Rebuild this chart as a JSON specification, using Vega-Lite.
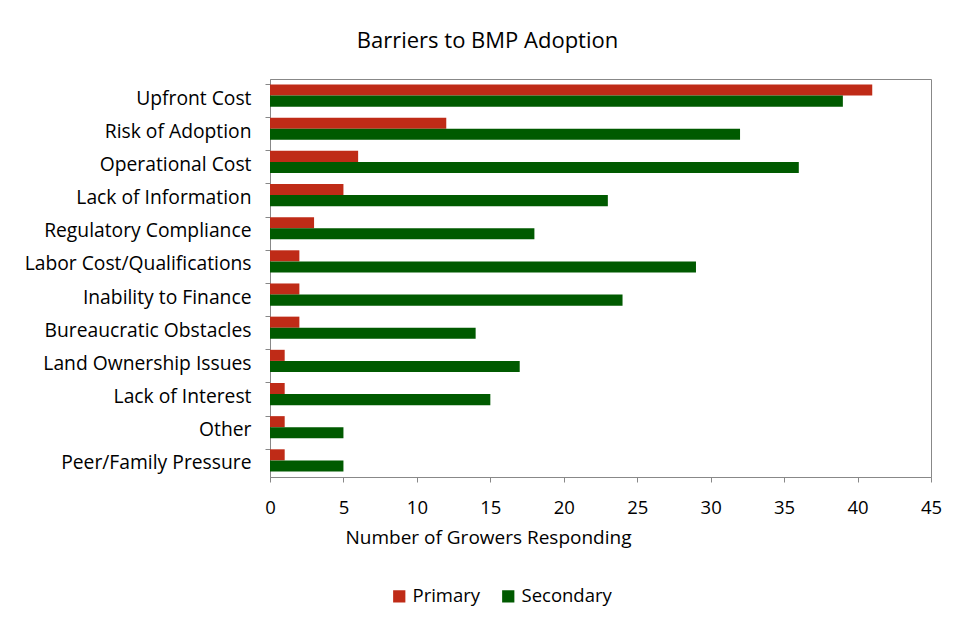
{
  "$schema": "https://vega.github.io/schema/vega-lite/v6.json",
  "autosize": "none",
  "width": 661,
  "height": 398,
  "padding": {"left": 270, "top": 79, "right": 26, "bottom": 155},
  "background": "white",
  "title": {
    "text": "Barriers to BMP Adoption",
    "anchor": "middle",
    "dx": -113,
    "offset": 26,
    "fontSize": 22,
    "fontWeight": "normal",
    "font": "Open Sans",
    "color": "#000"
  },
  "data": {
    "values": [
      {"barrier": "Upfront Cost", "series": "Primary", "growers": 41},
      {"barrier": "Upfront Cost", "series": "Secondary", "growers": 39},
      {"barrier": "Risk of Adoption", "series": "Primary", "growers": 12},
      {"barrier": "Risk of Adoption", "series": "Secondary", "growers": 32},
      {"barrier": "Operational Cost", "series": "Primary", "growers": 6},
      {"barrier": "Operational Cost", "series": "Secondary", "growers": 36},
      {"barrier": "Lack of Information", "series": "Primary", "growers": 5},
      {"barrier": "Lack of Information", "series": "Secondary", "growers": 23},
      {"barrier": "Regulatory Compliance", "series": "Primary", "growers": 3},
      {"barrier": "Regulatory Compliance", "series": "Secondary", "growers": 18},
      {"barrier": "Labor Cost/Qualifications", "series": "Primary", "growers": 2},
      {"barrier": "Labor Cost/Qualifications", "series": "Secondary", "growers": 29},
      {"barrier": "Inability to Finance", "series": "Primary", "growers": 2},
      {"barrier": "Inability to Finance", "series": "Secondary", "growers": 24},
      {"barrier": "Bureaucratic Obstacles", "series": "Primary", "growers": 2},
      {"barrier": "Bureaucratic Obstacles", "series": "Secondary", "growers": 14},
      {"barrier": "Land Ownership Issues", "series": "Primary", "growers": 1},
      {"barrier": "Land Ownership Issues", "series": "Secondary", "growers": 17},
      {"barrier": "Lack of Interest", "series": "Primary", "growers": 1},
      {"barrier": "Lack of Interest", "series": "Secondary", "growers": 15},
      {"barrier": "Other", "series": "Primary", "growers": 1},
      {"barrier": "Other", "series": "Secondary", "growers": 5},
      {"barrier": "Peer/Family Pressure", "series": "Primary", "growers": 1},
      {"barrier": "Peer/Family Pressure", "series": "Secondary", "growers": 5}
    ]
  },
  "mark": {"type": "bar"},
  "encoding": {
    "y": {
      "field": "barrier",
      "type": "nominal",
      "sort": null,
      "scale": {"paddingInner": 0.33, "paddingOuter": 0.165},
      "axis": {
        "title": null,
        "labelFont": "Open Sans",
        "labelFontSize": 19.3,
        "labelColor": "#000",
        "labelPadding": 14,
        "labelLimit": 300,
        "labelOffset": 3,
        "tickSize": 5,
        "tickColor": "#888",
        "domainColor": "#888",
        "bandPosition": 0
      }
    },
    "yOffset": {
      "field": "series",
      "type": "nominal",
      "sort": ["Primary", "Secondary"],
      "scale": {"paddingInner": 0, "paddingOuter": 0}
    },
    "x": {
      "field": "growers",
      "type": "quantitative",
      "scale": {"domain": [0, 45], "nice": false},
      "axis": {
        "title": "Number of Growers Responding",
        "values": [0, 5, 10, 15, 20, 25, 30, 35, 40, 45],
        "grid": false,
        "labelFlush": false,
        "labelFont": "Open Sans",
        "labelFontSize": 18.5,
        "labelColor": "#000",
        "labelPadding": 16,
        "tickSize": 5,
        "tickColor": "#888",
        "domainColor": "#888",
        "titleFont": "Open Sans",
        "titleFontSize": 19,
        "titleFontWeight": "normal",
        "titleColor": "#000",
        "titlePadding": 12,
        "titleX": 218,
        "titleAlign": "center"
      }
    },
    "color": {
      "field": "series",
      "type": "nominal",
      "scale": {"domain": ["Primary", "Secondary"], "range": ["#BF2B17", "#005A00"]},
      "legend": {
        "title": null,
        "orient": "none",
        "direction": "horizontal",
        "legendX": 120,
        "legendY": 508,
        "symbolType": "square",
        "symbolSize": 150,
        "symbolStrokeWidth": 0,
        "labelFont": "Open Sans",
        "labelFontSize": 18.5,
        "labelColor": "#000",
        "labelOffset": 4,
        "columnPadding": 18
      }
    }
  },
  "config": {
    "view": {"stroke": "#888", "strokeWidth": 1}
  }
}
